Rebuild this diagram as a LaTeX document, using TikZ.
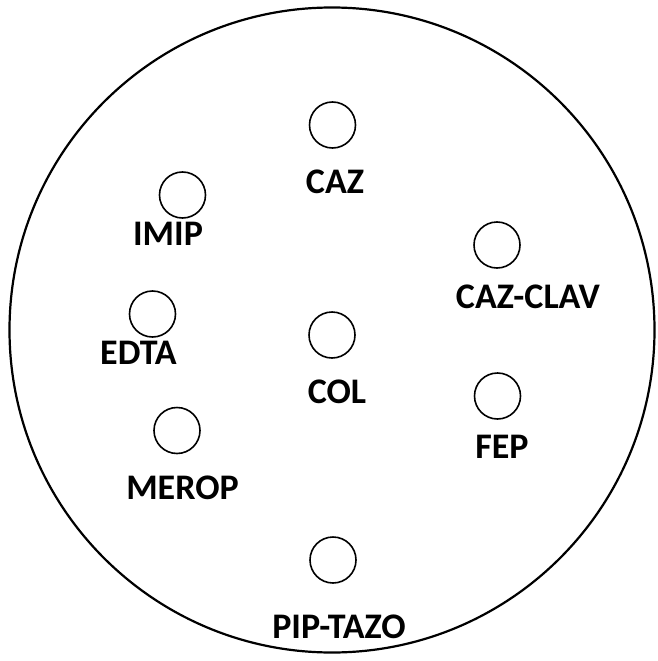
\documentclass[tikz,border=0pt]{standalone}
\usepackage{fontspec}
\setmainfont{Carlito}
\begin{document}
\begin{tikzpicture}[x=1pt,y=-1pt,
  disc/.style={circle,draw,line width=1.6pt,minimum size=46pt,inner sep=0pt},
  lbl/.style={font=\bfseries\fontsize{36}{42}\selectfont,inner sep=0pt,anchor=center}]
\useasboundingbox (0,0) rectangle (657,661);
\node[circle,draw,line width=2.2pt,minimum size=645pt,inner sep=0pt] (plate) at (332,330) {};
\node[disc] (caz) at (332.5,125) {};
\node[lbl] (tcaz) at (335,182) {CAZ};
\node[disc] (imip) at (182.5,195) {};
\node[lbl] (timip) at (168,234) {IMIP};
\node[disc] (cazclav) at (497,245) {};
\node[lbl] (tcazclav) at (528,297) {CAZ-CLAV};
\node[disc] (edta) at (152.5,314) {};
\node[lbl] (tedta) at (138.5,353) {EDTA};
\node[disc] (col) at (332,335) {};
\node[lbl] (tcol) at (337,392) {COL};
\node[disc] (fep) at (497.5,396) {};
\node[lbl] (tfep) at (502,447) {FEP};
\node[disc] (merop) at (177,430.5) {};
\node[lbl] (tmerop) at (182.5,488) {MEROP};
\node[disc] (pip) at (333,560) {};
\node[lbl] (tpip) at (339,627) {PIP-TAZO};
\end{tikzpicture}
\end{document}
